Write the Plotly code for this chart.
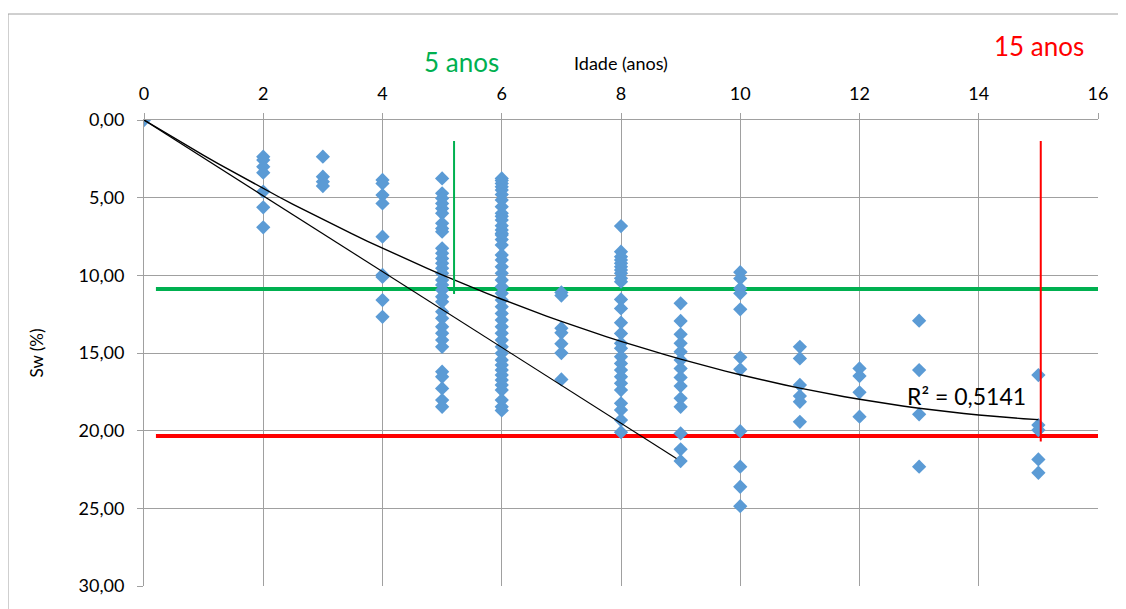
import plotly.graph_objects as go

# ---- data (age in years, Sw in %) ----
sw_age0 = [0.0]
sw_age2 = [2.36, 2.58, 3.01, 3.39, 4.61, 5.62, 6.91]
sw_age3 = [2.36, 3.65, 3.97, 4.25]
sw_age4 = [3.86, 4.08, 4.83, 5.37, 7.51, 9.98, 10.1, 11.59, 12.67]
sw_age5 = [3.76, 4.72, 5.04, 5.37, 5.69, 6.01, 6.65, 6.98, 7.19, 8.26, 8.58, 8.91,
           9.23, 9.55, 9.87, 10.30, 10.62, 10.95, 11.38, 11.70, 12.34, 12.77, 13.31,
           13.73, 14.17, 14.60, 16.20, 16.53, 17.28, 18.03, 18.46]
sw_age6 = [3.76, 3.9, 4.08, 4.3, 4.51, 4.8, 5.15, 5.58, 6.01, 6.2, 6.44, 6.8, 7.08, 7.3,
           7.4, 7.7, 8.05, 8.69, 9.01, 9.45, 9.87, 10.30, 10.73, 11.16, 11.59, 12.02,
           12.45, 12.88, 13.31, 13.73, 14.17, 14.60, 15.02, 15.45, 15.78, 16.10, 16.42,
           16.74, 17.06, 17.39, 18.03, 18.46, 18.7]
sw_age7 = [11.1, 11.3, 13.4, 13.7, 14.4, 15.0, 16.7]
sw_age8 = [6.83, 8.48, 8.80, 9.01, 9.23, 9.45, 9.66, 9.87, 10.19, 10.41, 11.55, 12.13,
           13.05, 13.74, 14.38, 14.70, 15.24, 15.67, 16.10, 16.53, 16.95, 17.39, 18.24,
           18.67, 19.32, 20.1]
sw_age9 = [11.8, 12.94, 13.8, 14.38, 14.92, 15.45, 15.99, 16.57, 17.13, 17.92, 18.46,
           20.18, 21.2, 21.96]
sw_age10 = [9.8, 10.2, 10.84, 11.16, 12.19, 15.28, 16.05, 20.03, 22.32, 23.61, 24.86]
sw_age11 = [14.6, 15.35, 17.06, 17.77, 18.14, 19.43]
sw_age12 = [15.99, 16.48, 17.53, 19.1]
sw_age13 = [12.92, 16.1, 18.95, 22.32]
sw_age15 = [16.42, 19.64, 19.96, 21.85, 22.71]

ages = [0, 2, 3, 4, 5, 6, 7, 8, 9, 10, 11, 12, 13, 15]
sw_by_age = [sw_age0, sw_age2, sw_age3, sw_age4, sw_age5, sw_age6, sw_age7, sw_age8,
             sw_age9, sw_age10, sw_age11, sw_age12, sw_age13, sw_age15]

# trend lines
linear_slope = 2.44          # Sw = a * idade, through origin
linear_x_end = 8.93
poly_coef = [-0.0708, 2.348]  # Sw = c2*x^2 + c1*x
poly_x_end = 15.0
r2_text = "R² = 0,5141"

# reference lines
green_h = 10.88
red_h = 20.35
green_v_x, green_v_y = 5.2, [1.35, 11.2]
red_v_x, red_v_y = 15.04, [1.35, 20.7]

x_ticks = [0, 2, 4, 6, 8, 10, 12, 14, 16]
y_ticks = [0, 5, 10, 15, 20, 25, 30]

# ---- build ----
xs, ys = [], []
for a, vals in zip(ages, sw_by_age):
    xs += [a] * len(vals)
    ys += vals

FONT = "Lato"
fig = go.Figure()

# horizontal reference lines
fig.add_trace(go.Scatter(x=[0.2, 16], y=[green_h, green_h], mode="lines",
                         line=dict(color="#00b050", width=4), hoverinfo="skip"))
fig.add_trace(go.Scatter(x=[0.2, 16], y=[red_h, red_h], mode="lines",
                         line=dict(color="#ff0000", width=4), hoverinfo="skip"))

# points
fig.add_trace(go.Scatter(x=xs, y=ys, mode="markers",
                         marker=dict(symbol="diamond", size=11, color="#5b9bd5")))

# trend lines
n = 60
lx = [linear_x_end * i / n for i in range(n + 1)]
fig.add_trace(go.Scatter(x=lx, y=[linear_slope * v for v in lx], mode="lines",
                         line=dict(color="black", width=1.2), hoverinfo="skip"))
px_ = [poly_x_end * i / n for i in range(n + 1)]
fig.add_trace(go.Scatter(x=px_, y=[poly_coef[0] * v * v + poly_coef[1] * v for v in px_],
                         mode="lines", line=dict(color="black", width=1.4), hoverinfo="skip"))

# vertical marker lines
fig.add_trace(go.Scatter(x=[green_v_x, green_v_x], y=green_v_y, mode="lines",
                         line=dict(color="#00b050", width=2), hoverinfo="skip"))
fig.add_trace(go.Scatter(x=[red_v_x, red_v_x], y=red_v_y, mode="lines",
                         line=dict(color="#ff0000", width=2), hoverinfo="skip"))

# page has an 8px body margin: figure origin sits at page (8, 8)
OFF = 8
W, H = 1126 - OFF, 609 - OFF
ml, mr, mt, mb = 144 - OFF, 28, 120 - OFF, 23
pw, ph = W - ml - mr, H - mt - mb

def paper_x(page_px):
    return (page_px - OFF - ml) / pw

def paper_y(page_py):
    return (H - mb - (page_py - OFF)) / ph

fig.update_layout(
    width=W, height=H,
    margin=dict(l=ml, r=mr, t=mt, b=mb, autoexpand=False),
    paper_bgcolor="white", plot_bgcolor="white",
    showlegend=False,
    separators=",.",
    font=dict(family=FONT, color="black", size=16),
    xaxis=dict(range=[0, 16], tickvals=x_ticks, side="top",
               showgrid=True, gridcolor="#a0a0a0", gridwidth=1,
               showline=True, linecolor="#a0a0a0", linewidth=1,
               ticks="outside", ticklen=6, tickcolor="#a0a0a0",
               tickfont=dict(size=18, family=FONT), ticklabelstandoff=6,
               zeroline=False,
               title=dict(text="Idade (anos)", font=dict(size=18, family=FONT), standoff=6)),
    yaxis=dict(range=[30, 0], tickvals=y_ticks, tickformat=".2f",
               showgrid=True, gridcolor="#a0a0a0", gridwidth=1,
               showline=True, linecolor="#a0a0a0", linewidth=1,
               ticks="outside", ticklen=6, tickcolor="#a0a0a0",
               tickfont=dict(size=18, family=FONT), ticklabelstandoff=9,
               zeroline=False,
               title=dict(text="Sw (%)", font=dict(size=17, family=FONT), standoff=30)),
    annotations=[
        dict(x=13.8, y=17.8, xref="x", yref="y", text=r2_text, showarrow=False,
             font=dict(size=23, family=FONT, color="black"), xanchor="center", yanchor="middle"),
        dict(x=paper_x(461), y=paper_y(62), xref="paper", yref="paper", text="5 anos",
             showarrow=False, font=dict(size=26, family=FONT, color="#00b050"),
             xanchor="center", yanchor="middle"),
        dict(x=paper_x(1039), y=paper_y(46), xref="paper", yref="paper", text="15 anos",
             showarrow=False, font=dict(size=26, family=FONT, color="#ff0000"),
             xanchor="center", yanchor="middle"),
    ],
    shapes=[
        dict(type="rect", xref="paper", yref="paper",
             x0=paper_x(8), x1=paper_x(1140), y0=paper_y(625), y1=paper_y(14),
             line=dict(color="#a0a0a0", width=1), fillcolor="rgba(0,0,0,0)", layer="below"),
    ],
)

fig.write_html("out.html")
